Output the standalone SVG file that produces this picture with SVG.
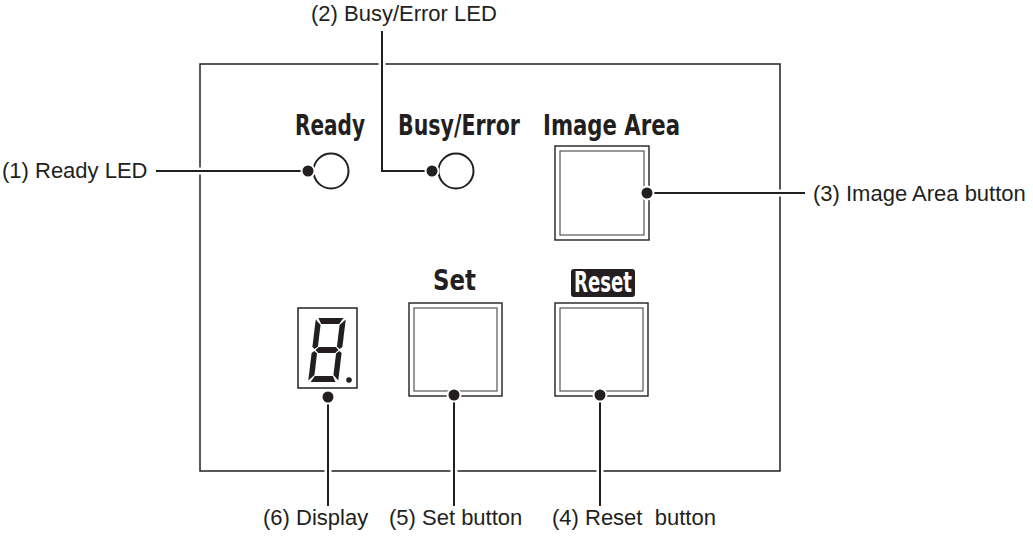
<svg xmlns="http://www.w3.org/2000/svg" width="1033" height="536" viewBox="0 0 1033 536">
<style>
.lbl{font-family:"Liberation Sans",Arial,sans-serif;font-size:22px;fill:#231f20}
.bold{font-family:"Liberation Sans Narrow","DejaVu Sans Condensed","Liberation Sans",sans-serif;font-weight:bold;font-size:29px;fill:#231f20}
.panel{fill:none;stroke:#231f20;stroke-width:1.5}
.outer{fill:none;stroke:#231f20;stroke-width:1.4}
.inner{fill:none;stroke:#555;stroke-width:1.2}
.led{fill:#fff;stroke:#231f20;stroke-width:2}
.halo{fill:none;stroke:#fff;stroke-width:7}
.lead{fill:none;stroke:#231f20;stroke-width:2}
.dot{fill:#231f20;stroke:#fff;stroke-width:2}
.seg{fill:#231f20}
</style>
<rect width="1033" height="536" fill="#fff"/>
<g id="panel"><rect class="panel" x="200" y="64" width="580" height="407"/></g>
<g id="ready-led">
<text class="bold" x="295" y="135" textLength="70" lengthAdjust="spacingAndGlyphs">Ready</text>
<circle class="led" cx="331" cy="171" r="17.5"/>
</g>
<g id="busy-led">
<text class="bold" x="398" y="135" textLength="122" lengthAdjust="spacingAndGlyphs">Busy/Error</text>
<circle class="led" cx="456" cy="171" r="17.5"/>
</g>
<g id="image-area-button">
<text class="bold" x="543" y="135" textLength="137" lengthAdjust="spacingAndGlyphs">Image Area</text>
<rect class="outer" x="555" y="146" width="94" height="94"/>
<rect class="inner" x="560" y="151" width="84" height="84"/>
</g>
<g id="set-button">
<text class="bold" x="433" y="290" textLength="43" lengthAdjust="spacingAndGlyphs">Set</text>
<rect class="outer" x="409" y="303" width="93" height="93"/>
<rect class="inner" x="414" y="308" width="83" height="83"/>
</g>
<g id="reset-button">
<rect x="571" y="269" width="64" height="28" rx="3" fill="#231f20"/>
<text class="bold" x="574" y="292" font-size="26" style="fill:#fff" textLength="58" lengthAdjust="spacingAndGlyphs">Reset</text>
<rect class="outer" x="555" y="303" width="93" height="93"/>
<rect class="inner" x="560" y="308" width="83" height="83"/>
</g>
<g id="display">
<rect x="298" y="308" width="59" height="80" fill="#fff" stroke="#231f20" stroke-width="1.5"/>
<g transform="translate(327,350) skewX(-7)">
<polygon class="seg" points="-12.5,-32 12.5,-32 9,-26 -9,-26"/>
<polygon class="seg" points="9.5,-25 15,-30.5 15,-3 12.5,-1 9.5,-3.5"/>
<polygon class="seg" points="9.5,3.5 12.5,1 15,3 15,30.5 9.5,25"/>
<polygon class="seg" points="-9,26 9,26 12.5,32 -12.5,32"/>
<polygon class="seg" points="-9.5,3.5 -12.5,1 -15,3 -15,30.5 -9.5,25"/>
<polygon class="seg" points="-9.5,-25 -15,-30.5 -15,-3 -12.5,-1 -9.5,-3.5"/>
<polygon class="seg" points="-11.5,0 -8.5,-3 8.5,-3 11.5,0 8.5,3 -8.5,3"/>
</g>
<circle class="seg" cx="349" cy="380" r="2.8"/>
</g>
<g id="connectors">
<path class="halo" d="M156 171H306M382 31V171H430M647 193H805M328 397V506M454 395V506M600 395V506"/>
<path class="lead" d="M156 171H306M382 31V171H430M647 193H805M328 397V506M454 395V506M600 395V506"/>
<circle class="dot" cx="308" cy="171" r="6.5"/>
<circle class="dot" cx="432" cy="171" r="6.5"/>
<circle class="dot" cx="647" cy="193" r="6.5"/>
<circle class="dot" cx="328" cy="397" r="6.5"/>
<circle class="dot" cx="454" cy="395" r="6.5"/>
<circle class="dot" cx="600" cy="395" r="6.5"/>
</g>
<g id="labels">
<text class="lbl" x="2" y="178">(1) Ready LED</text>
<text class="lbl" x="311" y="21">(2) Busy/Error LED</text>
<text class="lbl" x="813" y="201">(3) Image Area button</text>
<text class="lbl" x="552" y="525" xml:space="preserve" style="white-space:pre">(4) Reset  button</text>
<text class="lbl" x="389" y="525">(5) Set button</text>
<text class="lbl" x="263" y="525">(6) Display</text>
</g>
</svg>
